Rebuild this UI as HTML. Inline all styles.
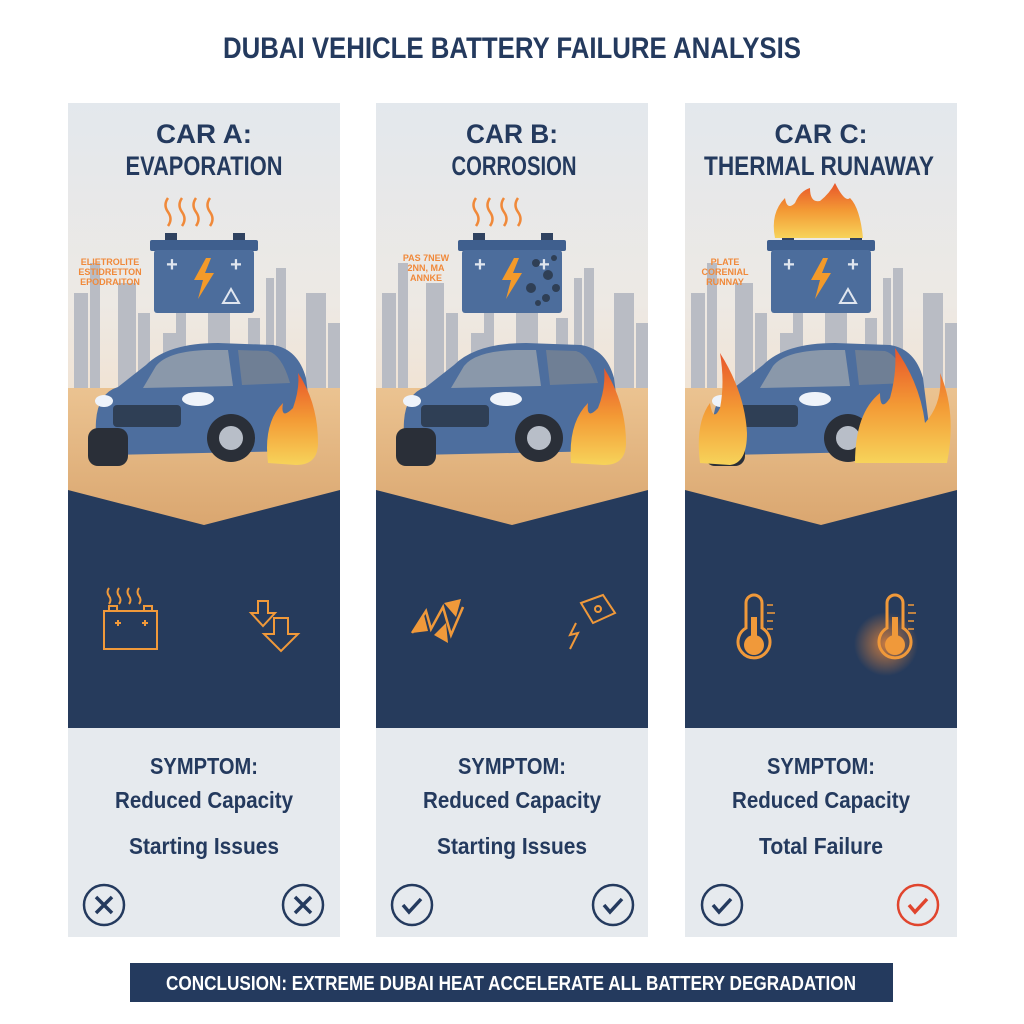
<!DOCTYPE html>
<html><head><meta charset="utf-8"><style>
html,body{margin:0;padding:0;background:#fff;}
svg{display:block;}
text{font-family:"Liberation Sans Narrow","Liberation Sans",sans-serif;font-weight:bold;}
</style></head><body>
<svg width="1024" height="1024" viewBox="0 0 1024 1024" xmlns="http://www.w3.org/2000/svg">
<defs>
<linearGradient id="sky" x1="0" y1="0" x2="0" y2="1">
<stop offset="0" stop-color="#e3e8ed"/><stop offset="0.5" stop-color="#ede9e4"/><stop offset="1" stop-color="#f5dcc0"/>
</linearGradient>
<linearGradient id="sand" x1="0" y1="0" x2="0" y2="1">
<stop offset="0" stop-color="#ebc391"/><stop offset="1" stop-color="#d9a56e"/>
</linearGradient>
<linearGradient id="fire" x1="0" y1="0" x2="0" y2="1">
<stop offset="0" stop-color="#e8552a"/><stop offset="0.5" stop-color="#f39a35"/><stop offset="1" stop-color="#f7d35a"/>
</linearGradient>
<radialGradient id="glow"><stop offset="0" stop-color="#f08a3a" stop-opacity="0.8"/><stop offset="1" stop-color="#f08a3a" stop-opacity="0"/></radialGradient>
<g id="scene">
<rect x="0" y="0" width="272" height="834" fill="#e6eaee"/>
<rect x="0" y="0" width="272" height="400" fill="url(#sky)"/>
<g fill="#b9bcc4">
<rect x="6" y="190" width="14" height="120"/><rect x="22" y="160" width="10" height="150"/>
<rect x="50" y="180" width="18" height="130"/><rect x="70" y="210" width="12" height="100"/>
<rect x="95" y="230" width="14" height="80"/><rect x="108" y="200" width="10" height="110"/>
<rect x="140" y="205" width="22" height="100"/><rect x="180" y="215" width="12" height="90"/>
<rect x="198" y="175" width="8" height="130"/><rect x="208" y="165" width="10" height="140"/>
<rect x="238" y="190" width="20" height="120"/><rect x="260" y="220" width="12" height="90"/>
</g>
<rect x="0" y="285" width="272" height="145" fill="url(#sand)"/>
<polygon points="0,387 136,422 272,387 272,625 0,625" fill="#263b5c"/>
<path d="M28,318 Q30,290 50,284 L78,262 Q100,240 150,240 L205,242 Q230,246 238,275 L245,330 Q244,345 230,348 L40,352 Q26,348 28,318 Z" fill="#4d6e9e"/>
<path d="M88,263 Q100,248 140,247 L160,247 L165,283 L75,285 Z" fill="#8a98aa"/>
<path d="M170,247 L200,248 Q214,252 222,280 L174,282 Z" fill="#6f7f95"/>
<rect x="45" y="302" width="68" height="22" rx="4" fill="#2f3f55"/>
<ellipse cx="36" cy="298" rx="9" ry="6" fill="#eef3fa"/><ellipse cx="130" cy="296" rx="16" ry="7" fill="#eef3fa"/>
<rect x="20" y="325" width="40" height="38" rx="10" fill="#2a2f38"/>
<circle cx="163" cy="335" r="24" fill="#2a2f38"/><circle cx="163" cy="335" r="12" fill="#b8bec8"/>
<rect x="97" y="130" width="12" height="9" fill="#2f4260"/><rect x="165" y="130" width="12" height="9" fill="#2f4260"/>
<rect x="82" y="137" width="108" height="11" rx="2" fill="#3f5f8e"/>
<rect x="86" y="147" width="100" height="63" rx="3" fill="#4c6d9c"/>
<text x="104" y="168" fill="#e0e6ef" font-size="20" text-anchor="middle">+</text>
<text x="168" y="168" fill="#e0e6ef" font-size="20" text-anchor="middle">+</text>
<path d="M138,155 L126,177 L135,177 L130,196 L146,170 L137,170 L143,155 Z" fill="#f39a2a"/>
</g>
</defs>
<text x="512" y="58" font-size="30" fill="#243a5e" text-anchor="middle" textLength="578" lengthAdjust="spacingAndGlyphs">DUBAI VEHICLE BATTERY FAILURE ANALYSIS</text>

<g transform="translate(68,103)">
<use href="#scene"/>
<path d="M155,200 L163,186 L171,200 Z" fill="none" stroke="#e0e6ef" stroke-width="2"/>
<g fill="none" stroke="#f0893a" stroke-width="2.5"><path d="M100,95 q-5,7 0,14 q5,7 0,14"/><path d="M114,95 q-5,7 0,14 q5,7 0,14"/><path d="M128,95 q-5,7 0,14 q5,7 0,14"/><path d="M142,95 q-5,7 0,14 q5,7 0,14"/></g>
<text x="42" y="162" font-size="9" fill="#f0893a" text-anchor="middle" font-weight="normal">ELIETROLITE</text>
<text x="42" y="172" font-size="9" fill="#f0893a" text-anchor="middle" font-weight="normal">ESTIDRETTON</text>
<text x="42" y="182" font-size="9" fill="#f0893a" text-anchor="middle" font-weight="normal">EPODRAITON</text>
<path d="M200,360 Q195,320 215,300 Q212,318 225,305 Q232,285 230,270 Q250,300 250,340 Q250,362 228,362 Z" fill="url(#fire)"/>
<text x="136" y="40" font-size="27" fill="#243a5e" text-anchor="middle" textLength="96" lengthAdjust="spacingAndGlyphs">CAR A:</text>
<text x="136" y="72" font-size="27" fill="#243a5e" text-anchor="middle" textLength="157" lengthAdjust="spacingAndGlyphs">EVAPORATION</text>
<g fill="none" stroke="#f0993a" stroke-width="2">
<rect x="36" y="508" width="53" height="38"/><rect x="41" y="503" width="8" height="5"/><rect x="76" y="503" width="8" height="5"/>
<path d="M47,520 h6 M50,517 v6 M74,520 h6 M77,517 v6"/>
<path d="M41,485 q-3,4 0,8 q3,4 0,8 M51,485 q-3,4 0,8 q3,4 0,8 M61,485 q-3,4 0,8 q3,4 0,8 M71,485 q-3,4 0,8 q3,4 0,8"/>
<path d="M190,498 h10 v12 h7 l-12,13 l-12,-13 h7 Z"/>
<path d="M206,515 h14 v16 h10 l-17,17 l-17,-17 h10 Z"/>
</g>
<text x="136" y="671" font-size="23" fill="#243a5e" text-anchor="middle" textLength="108" lengthAdjust="spacingAndGlyphs">SYMPTOM:</text>
<text x="136" y="705" font-size="23" fill="#243a5e" text-anchor="middle" textLength="178" lengthAdjust="spacingAndGlyphs">Reduced Capacity</text>
<text x="136" y="751" font-size="23" fill="#243a5e" text-anchor="middle" textLength="150" lengthAdjust="spacingAndGlyphs">Starting Issues</text>
<g fill="none" stroke="#243a5e" stroke-width="2.5">
<circle cx="36" cy="802" r="20"/><path d="M28,794 l16,16 M44,794 l-16,16" stroke-width="3.5"/>
<circle cx="235" cy="802" r="20"/><path d="M227,794 l16,16 M243,794 l-16,16" stroke-width="3.5"/>
</g>
</g>

<g transform="translate(376,103)">
<use href="#scene"/>
<g fill="#2f3f55"><circle cx="160" cy="160" r="4"/><circle cx="172" cy="172" r="5"/><circle cx="155" cy="185" r="5"/><circle cx="170" cy="195" r="4"/><circle cx="178" cy="155" r="3"/><circle cx="180" cy="185" r="4"/><circle cx="162" cy="200" r="3"/></g>
<g fill="none" stroke="#f0893a" stroke-width="2.5"><path d="M100,95 q-5,7 0,14 q5,7 0,14"/><path d="M114,95 q-5,7 0,14 q5,7 0,14"/><path d="M128,95 q-5,7 0,14 q5,7 0,14"/><path d="M142,95 q-5,7 0,14 q5,7 0,14"/></g>
<text x="50" y="158" font-size="9" fill="#f0893a" text-anchor="middle" font-weight="normal">PAS 7NEW</text>
<text x="50" y="168" font-size="9" fill="#f0893a" text-anchor="middle" font-weight="normal">2NN, MA</text>
<text x="50" y="178" font-size="9" fill="#f0893a" text-anchor="middle" font-weight="normal">ANNKE</text>
<path d="M195,360 Q192,320 212,300 Q210,318 222,305 Q230,285 228,265 Q250,300 250,340 Q250,362 228,362 Z" fill="url(#fire)"/>
<text x="136" y="40" font-size="27" fill="#243a5e" text-anchor="middle" textLength="92" lengthAdjust="spacingAndGlyphs">CAR B:</text>
<text x="138" y="72" font-size="27" fill="#243a5e" text-anchor="middle" textLength="125" lengthAdjust="spacingAndGlyphs">CORROSION</text>
<g fill="none" stroke="#f0993a" stroke-width="2.5">
<path d="M36,530 l14,-22 l5,18 l12,-22 l8,28 l12,-28"/>
</g>
<g fill="#f0993a"><polygon points="36,530 48,512 52,528"/><polygon points="68,500 85,496 80,514"/><polygon points="58,532 70,520 72,540"/></g>
<g fill="none" stroke="#f0993a" stroke-width="2">
<path d="M205,500 l22,-8 l12,18 l-22,10 Z"/><circle cx="222" cy="506" r="3"/><path d="M200,520 l-6,12 l8,-2 l-8,16"/>
</g>
<text x="136" y="671" font-size="23" fill="#243a5e" text-anchor="middle" textLength="108" lengthAdjust="spacingAndGlyphs">SYMPTOM:</text>
<text x="136" y="705" font-size="23" fill="#243a5e" text-anchor="middle" textLength="178" lengthAdjust="spacingAndGlyphs">Reduced Capacity</text>
<text x="136" y="751" font-size="23" fill="#243a5e" text-anchor="middle" textLength="150" lengthAdjust="spacingAndGlyphs">Starting Issues</text>
<g fill="none" stroke="#243a5e" stroke-width="2.5">
<circle cx="36" cy="802" r="20"/><path d="M27,802 l6,7 l12,-13" stroke-width="3.5"/>
<circle cx="237" cy="802" r="20"/><path d="M228,802 l6,7 l12,-13" stroke-width="3.5"/>
</g>
</g>

<g transform="translate(685,103)">
<use href="#scene"/>
<path d="M155,200 L163,186 L171,200 Z" fill="none" stroke="#e0e6ef" stroke-width="2"/>
<path d="M90,135 Q85,110 100,95 Q102,108 110,100 Q115,88 125,85 Q125,100 135,98 Q145,90 150,80 Q160,100 165,95 Q175,105 178,135 Z" fill="url(#fire)"/>
<text x="40" y="162" font-size="9" fill="#f0893a" text-anchor="middle" font-weight="normal">PLATE</text>
<text x="40" y="172" font-size="9" fill="#f0893a" text-anchor="middle" font-weight="normal">CORENIAL</text>
<text x="40" y="182" font-size="9" fill="#f0893a" text-anchor="middle" font-weight="normal">RUNNAY</text>
<path d="M15,360 Q10,320 25,300 Q28,320 35,305 Q40,280 35,250 Q60,290 62,330 Q62,360 45,362 Z" fill="url(#fire)"/>
<path d="M170,360 Q170,310 195,290 Q195,310 205,295 Q212,270 210,245 Q235,280 240,320 Q258,300 255,270 Q272,310 262,360 Z" fill="url(#fire)"/>
<text x="136" y="40" font-size="27" fill="#243a5e" text-anchor="middle" textLength="93" lengthAdjust="spacingAndGlyphs">CAR C:</text>
<text x="134" y="72" font-size="27" fill="#243a5e" text-anchor="middle" textLength="230" lengthAdjust="spacingAndGlyphs">THERMAL RUNAWAY</text>
<circle cx="201" cy="541" r="32" fill="url(#glow)"/>
<g fill="none" stroke="#f0993a" stroke-width="3">
<path d="M61,525 V500 a8,8 0 0 1 16,0 V525 a16,16 0 1 1 -16,0 Z"/>
<path d="M202,525 V500 a8,8 0 0 1 16,0 V525 a16,16 0 1 1 -16,0 Z"/>
<path d="M82,502 h6 M82,510 h8 M82,518 h6 M82,526 h6 M223,502 h6 M223,510 h8 M223,518 h6 M223,526 h6" stroke-width="1.5"/>
</g>
<g fill="#f0993a"><circle cx="69" cy="542" r="10"/><rect x="66" y="514" width="6" height="22"/><circle cx="210" cy="542" r="10"/><rect x="207" y="514" width="6" height="22"/></g>
<text x="136" y="671" font-size="23" fill="#243a5e" text-anchor="middle" textLength="108" lengthAdjust="spacingAndGlyphs">SYMPTOM:</text>
<text x="136" y="705" font-size="23" fill="#243a5e" text-anchor="middle" textLength="178" lengthAdjust="spacingAndGlyphs">Reduced Capacity</text>
<text x="136" y="751" font-size="23" fill="#243a5e" text-anchor="middle" textLength="124" lengthAdjust="spacingAndGlyphs">Total Failure</text>
<g fill="none" stroke-width="2.5">
<circle cx="37" cy="802" r="20" stroke="#243a5e"/><path d="M28,802 l6,7 l12,-13" stroke="#243a5e" stroke-width="3.5"/>
<circle cx="233" cy="802" r="20" stroke="#e0452e"/><path d="M224,802 l6,7 l12,-13" stroke="#e0452e" stroke-width="3.5"/>
</g>
</g>

<rect x="130" y="963" width="763" height="39" fill="#243a5e"/>
<text x="511" y="990" font-size="20" fill="#ffffff" text-anchor="middle" textLength="690" lengthAdjust="spacingAndGlyphs">CONCLUSION: EXTREME DUBAI HEAT ACCELERATE ALL BATTERY DEGRADATION</text>
</svg>
</body></html>
